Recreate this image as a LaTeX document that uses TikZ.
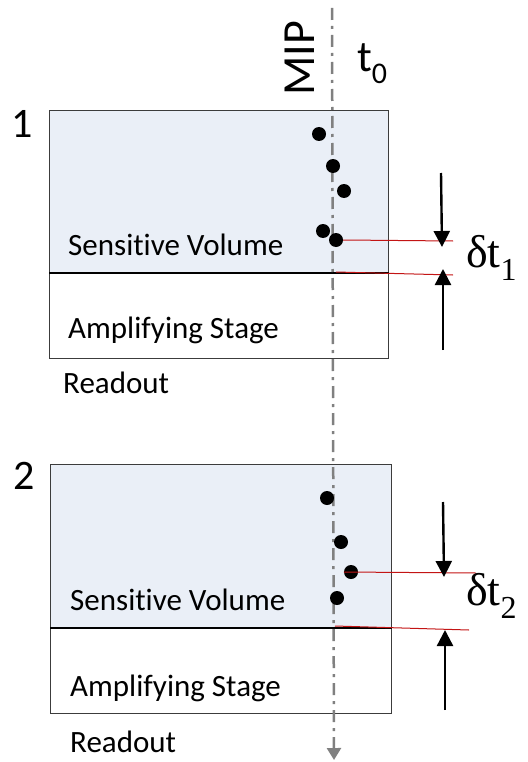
\documentclass[tikz,border=0pt]{standalone}
\usepackage{fontspec}
\setmainfont{Carlito}[Ligatures={NoCommon,NoRequired,NoContextual}]
\newfontfamily\dtfont{Liberation Serif}
\usetikzlibrary{arrows.meta}
\definecolor{volfill}{RGB}{234,239,247}
\definecolor{boxline}{RGB}{60,60,60}
\definecolor{mipgray}{RGB}{128,128,128}
\definecolor{redline}{RGB}{195,20,20}
\tikzset{
  sensbox/.style={draw=boxline, line width=1.3pt, fill=volfill, minimum width=339pt, minimum height=162pt, inner sep=0pt, anchor=north west},
  ampbox/.style={draw=boxline, line width=1.3pt, fill=white, minimum width=339pt, minimum height=86pt, inner sep=0pt, anchor=north west},
  lbl/.style={font=\fontsize{31}{33}\selectfont, inner sep=0pt},
  bignum/.style={font=\fontsize{42}{44}\selectfont, inner sep=0pt},
  hit/.style={circle, fill=black, minimum size=14pt, inner sep=0pt},
  redl/.style={draw=redline, line width=1pt},
  blk/.style={draw=black, line width=2.4pt, -{Triangle[length=16pt,width=16pt]}},
  mip/.style={draw=mipgray, line width=2.5pt, dash pattern=on 12pt off 6pt on 3pt off 6pt, -{Triangle[length=12pt,width=14pt]}},
  dtl/.style={font=\dtfont\fontsize{46}{48}\selectfont, inner sep=0pt}
}
\begin{document}
\begin{tikzpicture}[x=1pt,y=-1pt]
\useasboundingbox (0,0) rectangle (527,762);
% detector 1
\node[sensbox] (s1) at (49,110) {};
\node[ampbox] (a1) at (49,272) {};
\draw[black, line width=2pt] (s1.south west) -- (s1.south east);
\node[lbl, anchor=west] (sv1) at (68,245) {Sensitive Volume};
\node[lbl, anchor=west] (as1) at (68,330) {Amplifying Stage};
\node[lbl, anchor=west] (ro1) at (63,383) {Readout};
\node[bignum] (n1) at (22,124) {1};
% detector 2
\node[sensbox, minimum width=341pt, minimum height=163pt] (s2) at (50,464) {};
\node[ampbox, minimum width=341pt] (a2) at (50,627) {};
\draw[black, line width=2pt] (s2.south west) -- (s2.south east);
\node[lbl, anchor=west] (sv2) at (70,600) {Sensitive Volume};
\node[lbl, anchor=west] (as2) at (70,688) {Amplifying Stage};
\node[lbl, anchor=west] (ro2) at (70,742) {Readout};
\node[bignum] (n2) at (24,476) {2};
% MIP track
\coordinate (mtop) at (332,8);
\coordinate (mbot) at (334,760);
\draw[mip] (mtop) -- (mbot);
\node[font=\fontsize{46}{48}\selectfont, inner sep=0pt, rotate=90] (miplbl) at (300,58) {MIP};
\node[font=\fontsize{44}{46}\selectfont, inner sep=0pt] (t0) at (372,64) {t\raisebox{-0.28em}{\fontsize{30}{32}\selectfont 0}};
% hits detector 1
\node[hit] (h11) at (319,134) {};
\node[hit] (h12) at (333,166) {};
\node[hit] (h13) at (344,191) {};
\node[hit] (h14) at (323,231) {};
\node[hit] (h15) at (336,240) {};
% hits detector 2
\node[hit] (h21) at (327,498) {};
\node[hit] (h22) at (341,542) {};
\node[hit] (h23) at (351,572) {};
\node[hit] (h24) at (337,598) {};
% timing lines detector 1
\coordinate (r1a) at (453,241);
\coordinate (r1s) at (336,272);
\coordinate (r1b) at (453,275);
\draw[redl] (h15.east) -- (r1a);
\draw[redl] (r1s) -- (r1b);
\coordinate (d1t) at (441,173);
\coordinate (d1b) at (442,247);
\coordinate (u1b) at (443,350);
\coordinate (u1t) at (443,269);
\draw[blk] (d1t) -- (d1b);
\draw[blk] (u1b) -- (u1t);
\node[dtl, anchor=west] (dt1) at (466,258) {δt\raisebox{-0.3em}{\fontsize{32}{34}\selectfont 1}};
% timing lines detector 2
\coordinate (r2a) at (476,573);
\coordinate (r2s) at (335,626);
\coordinate (r2b) at (469,630);
\draw[redl] (h23.west) -- (r2a);
\draw[redl] (r2s) -- (r2b);
\coordinate (d2t) at (443,502);
\coordinate (d2b) at (444,577);
\coordinate (u2b) at (445,710);
\coordinate (u2t) at (445,630);
\draw[blk] (d2t) -- (d2b);
\draw[blk] (u2b) -- (u2t);
\node[dtl, anchor=west] (dt2) at (466,596) {δt\raisebox{-0.3em}{\fontsize{32}{34}\selectfont 2}};
\end{tikzpicture}
\end{document}
